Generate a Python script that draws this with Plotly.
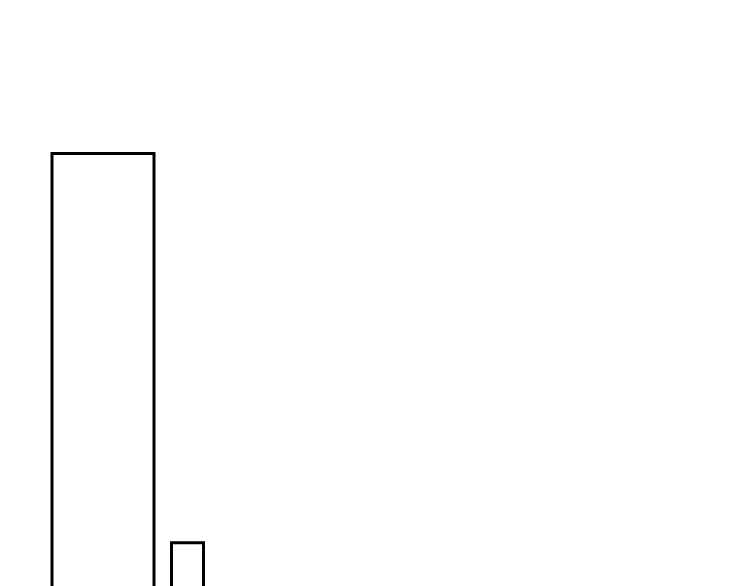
import plotly.graph_objects as go

# two outlined bars, both running off the bottom of the view
bar_x = [1.03, 1.875]
bar_width = [1.02, 0.32]
bar_height = [83.8, 17.4]

fig = go.Figure(
    go.Bar(
        x=bar_x,
        y=bar_height,
        width=bar_width,
        marker=dict(color="white", line=dict(color="black", width=3)),
        hoverinfo="skip",
    )
)

fig.update_layout(
    width=750,
    height=586,
    margin=dict(l=0, r=0, t=0, b=0),
    paper_bgcolor="white",
    plot_bgcolor="white",
    showlegend=False,
)
# page body adds an 8px offset, so the ranges are nudged to compensate
fig.update_xaxes(range=[0.08, 7.58], visible=False, showgrid=False, zeroline=False)
fig.update_yaxes(range=[8.635, 108.635], visible=False, showgrid=False, zeroline=False)

fig.write_html("out.html")
